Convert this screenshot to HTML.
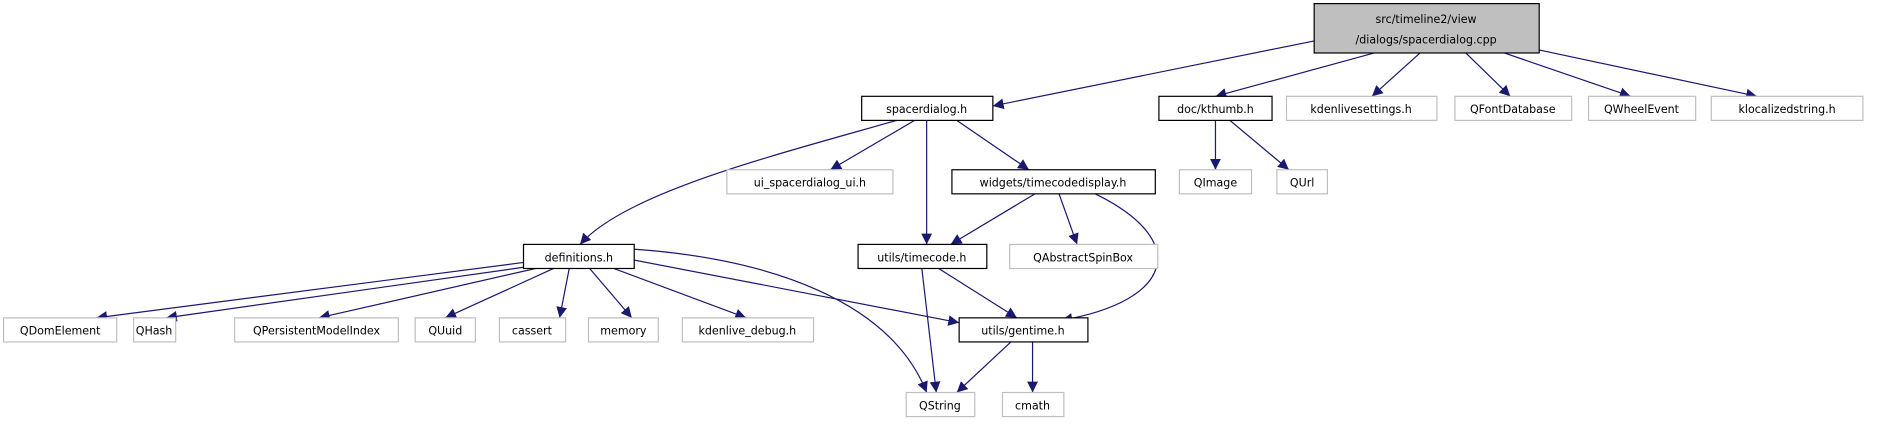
<!DOCTYPE html>
<html><head><meta charset="utf-8"><style>
html,body{margin:0;padding:0;background:#fff;}
svg{display:block}
text{font-family:"DejaVu Sans","Liberation Sans",sans-serif;font-size:9.2px;fill:#000;text-anchor:middle;}
.b{fill:#fff;stroke:#000;stroke-width:1}
.g{fill:#fff;stroke:#bfbfbf;stroke-width:1}
.e{fill:none;stroke:#191970;stroke-width:1}
</style></head><body>
<svg width="1887" height="425" viewBox="0 0 1568 353" preserveAspectRatio="none">
<defs><marker id="a" viewBox="0 0 10 10" refX="10" refY="5" markerWidth="9" markerHeight="9" markerUnits="userSpaceOnUse" orient="auto"><path d="M0,0L10,5L0,10z" fill="#191970"/></marker></defs>
<g marker-end="url(#a)">
<path class="e" d="M1092,34L825,88"/>
<path class="e" d="M1142,44L1010,80"/>
<path class="e" d="M1180,44L1140,80"/>
<path class="e" d="M1218,44L1255,80"/>
<path class="e" d="M1250,44L1355,80"/>
<path class="e" d="M1272,40L1460,80"/>
<path class="e" d="M745,100C640,130 520,160 482,203"/>
<path class="e" d="M760,100L690,141"/>
<path class="e" d="M770,100L770,203"/>
<path class="e" d="M795,100L855,141"/>
<path class="e" d="M1010,100L1010,141"/>
<path class="e" d="M1022,100L1071,141"/>
<path class="e" d="M860,161L790,203"/>
<path class="e" d="M880,161L895,203"/>
<path class="e" d="M910,161C990,200 975,250 882,266"/>
<path class="e" d="M435,218L80,264"/>
<path class="e" d="M435,222L138,264"/>
<path class="e" d="M445,223L265,264"/>
<path class="e" d="M460,223L370,264"/>
<path class="e" d="M473,223L465,264"/>
<path class="e" d="M490,223L525,264"/>
<path class="e" d="M510,223L620,264"/>
<path class="e" d="M527,216L797,268"/>
<path class="e" d="M527,207C640,215 740,250 770,326"/>
<path class="e" d="M766,223L778,326"/>
<path class="e" d="M780,223L845,264"/>
<path class="e" d="M840,284L795,326"/>
<path class="e" d="M858,284L858,326"/>
</g>
<rect x="1092" y="3" width="187" height="41" fill="#bfbfbf" stroke="#000"/>
<text x="1185" y="19">src/timeline2/view</text>
<text x="1185" y="36">/dialogs/spacerdialog.cpp</text>
<rect class="b" x="716" y="80" width="109" height="20"/><text x="770" y="94">spacerdialog.h</text>
<rect class="b" x="963" y="80" width="94" height="20"/><text x="1010" y="94">doc/kthumb.h</text>
<rect class="g" x="1069" y="80" width="125" height="20"/><text x="1131" y="94">kdenlivesettings.h</text>
<rect class="g" x="1209" y="80" width="97" height="20"/><text x="1257" y="94">QFontDatabase</text>
<rect class="g" x="1320" y="80" width="89" height="20"/><text x="1364" y="94">QWheelEvent</text>
<rect class="g" x="1422" y="80" width="126" height="20"/><text x="1485" y="94">klocalizedstring.h</text>
<rect class="g" x="604" y="141" width="138" height="20"/><text x="673" y="155">ui_spacerdialog_ui.h</text>
<rect class="b" x="791" y="141" width="169" height="20"/><text x="875" y="155">widgets/timecodedisplay.h</text>
<rect class="g" x="980" y="141" width="60" height="20"/><text x="1010" y="155">QImage</text>
<rect class="g" x="1061" y="141" width="42" height="20"/><text x="1082" y="155">QUrl</text>
<rect class="b" x="435" y="203" width="92" height="20"/><text x="481" y="217">definitions.h</text>
<rect class="b" x="713" y="203" width="107" height="20"/><text x="766" y="217">utils/timecode.h</text>
<rect class="g" x="839" y="203" width="123" height="20"/><text x="900" y="217">QAbstractSpinBox</text>
<rect class="g" x="3" y="264" width="94" height="20"/><text x="50" y="278">QDomElement</text>
<rect class="g" x="111" y="264" width="35" height="20"/><text x="128" y="278">QHash</text>
<rect class="g" x="195" y="264" width="136" height="20"/><text x="263" y="278">QPersistentModelIndex</text>
<rect class="g" x="345" y="264" width="50" height="20"/><text x="370" y="278">QUuid</text>
<rect class="g" x="415" y="264" width="55" height="20"/><text x="442" y="278">cassert</text>
<rect class="g" x="489" y="264" width="58" height="20"/><text x="518" y="278">memory</text>
<rect class="g" x="567" y="264" width="109" height="20"/><text x="621" y="278">kdenlive_debug.h</text>
<rect class="b" x="797" y="264" width="107" height="20"/><text x="850" y="278">utils/gentime.h</text>
<rect class="g" x="753" y="326" width="57" height="20"/><text x="781" y="340">QString</text>
<rect class="g" x="833" y="326" width="51" height="20"/><text x="858" y="340">cmath</text>
</svg>
</body></html>
